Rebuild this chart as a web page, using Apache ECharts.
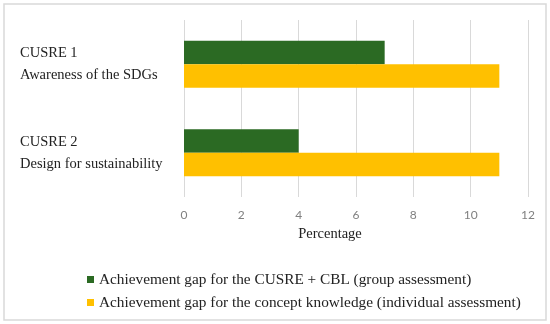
<!DOCTYPE html>
<html><head><meta charset="utf-8">
<script src="https://cdn.jsdelivr.net/npm/echarts@6/dist/echarts.min.js"></script>
<style>html,body{margin:0;padding:0;background:#fff}#c{width:550px;height:324px}</style>
</head><body><div id="c"></div>
<script>
const categoryTop = ['CUSRE 1', 'CUSRE 2'];
const categoryBottom = ['Awareness of the SDGs', 'Design for sustainability'];
const seriesNames = ['Achievement gap for the CUSRE + CBL (group assessment)', 'Achievement gap for the concept knowledge (individual assessment)'];
const groupGap = [7, 4];
const conceptGap = [11, 11];
const xTicks = [0, 2, 4, 6, 8, 10, 12];

const serif = '"Liberation Serif", "DejaVu Serif", serif';
const chart = echarts.init(document.getElementById('c'), null, {renderer: 'canvas'});
chart.setOption({
  animation: false,
  backgroundColor: '#fff',
  graphic: [{type: 'rect', shape: {x: 4, y: 4, width: 542, height: 316}, style: {fill: 'none', stroke: '#d9d9d9', lineWidth: 1.5}, silent: true}],
  grid: {left: 184, right: 22, top: 20, bottom: 127, containLabel: false},
  xAxis: {
    type: 'value', min: xTicks[0], max: xTicks[xTicks.length - 1], interval: 2,
    axisLine: {show: false}, axisTick: {show: false},
    splitLine: {lineStyle: {color: '#d9d9d9', width: 1}},
    axisLabel: {margin: 12, color: '#808080', fontFamily: 'Lato, "Liberation Sans", sans-serif', fontSize: 12},
    name: 'Percentage', nameLocation: 'middle', nameGap: 30,
    nameTextStyle: {fontFamily: serif, fontSize: 14.5, color: '#222', padding: [0, 52, 0, 0]}
  },
  yAxis: {
    type: 'category', inverse: true,
    data: categoryTop.map((t, i) => t + '\n' + categoryBottom[i]),
    axisLine: {show: false}, axisTick: {show: false},
    axisLabel: {
      align: 'left', margin: 164, fontFamily: serif, fontSize: 14.5, color: '#222',
      lineHeight: 22, padding: [12, 0, 0, 0]
    }
  },
  legend: {
    orient: 'vertical', left: 82, top: 267, itemWidth: 7, itemHeight: 7, itemGap: 8,
    icon: 'rect', data: seriesNames,
    textStyle: {fontFamily: serif, fontSize: 15.3, color: '#222'}
  },
  series: [
    {name: seriesNames[0], type: 'bar', data: groupGap, itemStyle: {color: '#2b6a23'}, barGap: '0%', barCategoryGap: '47%'},
    {name: seriesNames[1], type: 'bar', data: conceptGap, itemStyle: {color: '#ffc000'}, barGap: '0%', barCategoryGap: '47%'}
  ]
});
</script></body></html>
